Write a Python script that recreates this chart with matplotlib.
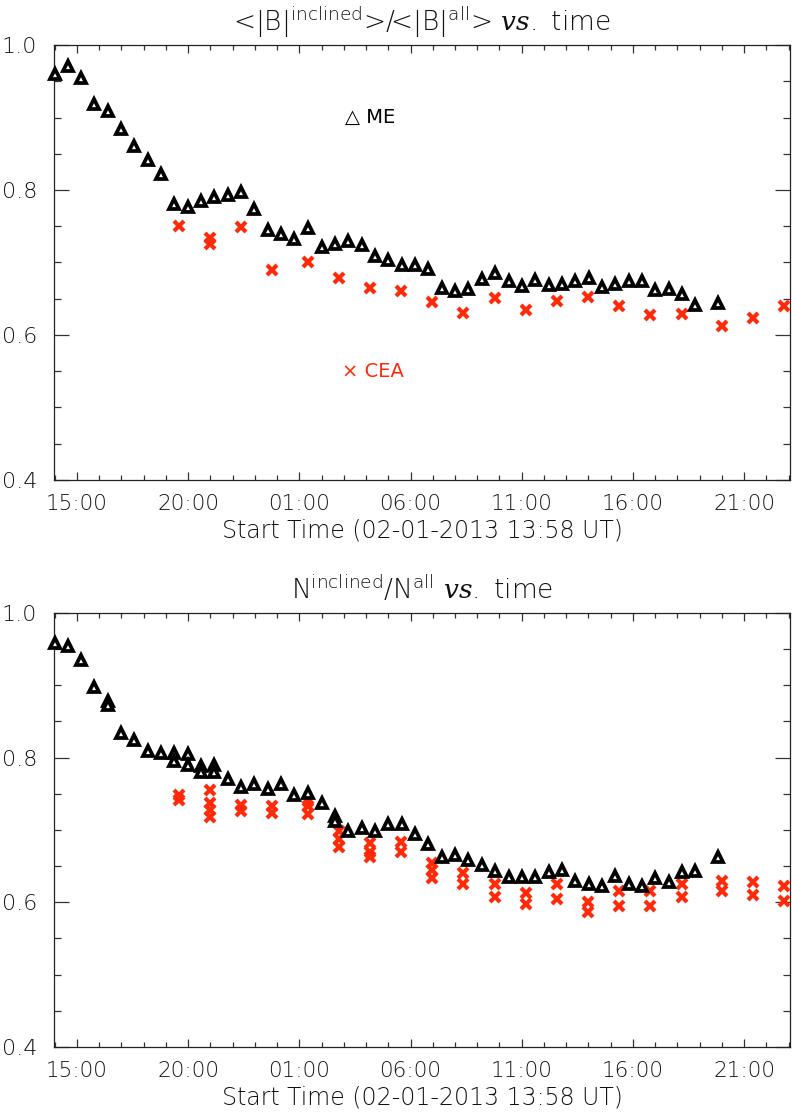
import matplotlib
matplotlib.use('Agg')
import matplotlib.pyplot as plt
from matplotlib.ticker import FixedLocator, MultipleLocator

plt.rcParams['font.family'] = ['DejaVu Sans']
plt.rcParams['font.weight'] = 'light'
plt.rcParams['axes.labelweight'] = 'light'
plt.rcParams['axes.titleweight'] = 'light'
plt.rcParams['mathtext.fontset'] = 'custom'
plt.rcParams['mathtext.rm'] = 'DejaVu Sans:light'
plt.rcParams['mathtext.it'] = 'DejaVu Serif:italic'
plt.rcParams['mathtext.sf'] = 'DejaVu Sans'

# ---------------- data (hours since 02-01-2013 13:58 UT) ----------------
t_me_top = [0.04, 0.62, 1.21, 1.81, 2.41, 3.01, 3.61, 4.21, 4.81, 5.41,
            6.01, 6.61, 7.21, 7.81, 8.41, 9.01, 9.61, 10.21, 10.81, 11.44,
            12.04, 12.64, 13.24, 13.84, 14.44, 15.04, 15.64, 16.24, 16.84, 17.44,
            18.04, 18.64, 19.24, 19.84, 20.44, 21.04, 21.64, 22.24, 22.84, 23.44,
            24.04, 24.64, 25.24, 25.84, 26.44, 27.04, 27.64, 28.24, 28.84, 29.84]
v_me_top = [0.960, 0.971, 0.955, 0.918, 0.909, 0.884, 0.861, 0.841, 0.822, 0.781,
            0.777, 0.785, 0.791, 0.793, 0.797, 0.774, 0.745, 0.739, 0.733, 0.747,
            0.721, 0.726, 0.729, 0.724, 0.709, 0.703, 0.697, 0.697, 0.691, 0.665,
            0.660, 0.663, 0.677, 0.685, 0.674, 0.668, 0.676, 0.669, 0.671, 0.675,
            0.679, 0.666, 0.670, 0.675, 0.674, 0.662, 0.663, 0.657, 0.641, 0.644]

t_cea_top = [5.62, 7.02, 7.02, 8.41, 9.79, 11.41, 12.82, 14.22, 15.61, 17.02,
             18.41, 19.81, 21.22, 22.61, 24.01, 25.42, 26.81, 28.24, 30.03, 31.43,
             32.81]
v_cea_top = [0.750, 0.734, 0.726, 0.749, 0.689, 0.700, 0.679, 0.665, 0.660, 0.645,
             0.631, 0.651, 0.634, 0.647, 0.653, 0.640, 0.628, 0.629, 0.613, 0.623,
             0.640]

t_me_bot = [0.04, 0.62, 1.21, 1.81, 2.41, 2.41, 3.01, 3.61, 4.21, 4.81,
            5.41, 5.41, 6.01, 6.01, 6.61, 6.61, 7.21, 7.21, 7.81, 8.41,
            9.01, 9.61, 10.21, 10.81, 11.44, 12.04, 12.64, 12.64, 13.24, 13.84,
            14.44, 15.04, 15.64, 16.24, 16.84, 17.44, 18.04, 18.64, 19.24, 19.84,
            20.44, 21.04, 21.64, 22.24, 22.84, 23.44, 24.04, 24.64, 25.24, 25.84,
            26.44, 27.04, 27.64, 28.24, 28.84, 29.84]
v_me_bot = [0.958, 0.954, 0.935, 0.898, 0.879, 0.873, 0.834, 0.825, 0.809, 0.807,
            0.806, 0.795, 0.805, 0.790, 0.789, 0.780, 0.790, 0.780, 0.770, 0.760,
            0.764, 0.757, 0.764, 0.748, 0.751, 0.737, 0.719, 0.712, 0.698, 0.703,
            0.699, 0.708, 0.708, 0.694, 0.681, 0.663, 0.666, 0.658, 0.651, 0.643,
            0.635, 0.635, 0.635, 0.642, 0.644, 0.629, 0.625, 0.623, 0.636, 0.626,
            0.623, 0.633, 0.628, 0.642, 0.643, 0.662]

t_cea_bot = [5.62, 5.62, 7.02, 7.02, 7.02, 7.02, 8.41, 8.41, 9.82, 9.82,
             11.44, 11.44, 11.44, 12.82, 12.82, 12.82, 14.22, 14.22, 14.22, 15.61,
             15.61, 17.02, 17.02, 17.02, 18.41, 18.41, 19.81, 19.81, 21.22, 21.22,
             22.61, 22.61, 24.01, 24.01, 25.42, 25.42, 26.81, 26.81, 28.24, 28.24,
             30.03, 30.03, 31.43, 31.43, 32.81, 32.81]
v_cea_bot = [0.749, 0.741, 0.755, 0.738, 0.728, 0.718, 0.735, 0.726, 0.733, 0.724,
             0.740, 0.733, 0.722, 0.698, 0.688, 0.676, 0.682, 0.670, 0.662, 0.684,
             0.669, 0.655, 0.644, 0.634, 0.641, 0.625, 0.625, 0.607, 0.613, 0.597,
             0.626, 0.604, 0.600, 0.586, 0.615, 0.595, 0.615, 0.595, 0.625, 0.607,
             0.630, 0.615, 0.628, 0.610, 0.622, 0.602]

tick_labels = ['15:00', '20:00', '01:00', '06:00', '11:00', '16:00', '21:00']
y_tick_labels = ['0.4', '0.6', '0.8', '1.0']
first_major = 62 / 60.0   # 15:00 relative to 13:58
x_max = 33.1

titles = [r'<|B|$^{\rm inclined}$>/<|B|$^{\rm all}$> $\mathit{vs.}$ time',
          r'N$^{\rm inclined}$/N$^{\rm all}$ $\mathit{vs.}$ time']
xlabel = 'Start Time (02-01-2013 13:58 UT)'

RED = '#ff2a0a'

fig = plt.figure(figsize=(7.92, 11.17), dpi=100)
ax1 = fig.add_axes([0.0682, 0.5703, 0.9293, 0.3894])
ax2 = fig.add_axes([0.0682, 0.0627, 0.9293, 0.3885])

panels = [(ax1, t_me_top, v_me_top, t_cea_top, v_cea_top),
          (ax2, t_me_bot, v_me_bot, t_cea_bot, v_cea_bot)]

for i, (ax, tm, vm, tc, vc) in enumerate(panels):
    ax.plot(tc, vc, linestyle='none', marker='x', ms=7, mew=3.0,
            color=RED, clip_on=False, zorder=3)
    ax.plot(tm, vm, linestyle='none', marker='^', ms=7, mew=2.7,
            mfc='white', mec='black', clip_on=False, zorder=4)
    ax.set_xlim(0, x_max)
    ax.set_ylim(0.4, 1.0)
    majors = [first_major + 5 * k for k in range(len(tick_labels))]
    ax.xaxis.set_major_locator(FixedLocator(majors))
    ax.set_xticklabels(tick_labels)
    minors = [first_major - 1 + h for h in range(0, 34)]
    ax.xaxis.set_minor_locator(FixedLocator(minors))
    ax.yaxis.set_major_locator(FixedLocator([0.4, 0.6, 0.8, 1.0]))
    ax.set_yticklabels(y_tick_labels)
    ax.yaxis.set_minor_locator(MultipleLocator(0.05))
    ax.tick_params(axis='both', which='both', direction='in', top=True,
                   right=True, color='#333333', width=0.9,
                   labelcolor='#111111')
    ax.tick_params(axis='x', which='major', length=6, pad=10, labelsize=15.5)
    ax.tick_params(axis='x', which='minor', length=3.6)
    ax.tick_params(axis='y', which='major', length=10.5, pad=12, labelsize=16)
    ax.tick_params(axis='y', which='minor', length=5)
    for s in ax.spines.values():
        s.set_linewidth(0.9)
        s.set_color('#222222')
    ax.set_title(titles[i], fontsize=19, pad=10, color='#111111')
    ax.set_xlabel(xlabel, fontsize=17, labelpad=3, color='#111111')

ax1.text(0.395, 0.834, '\u25b3 ME', transform=ax1.transAxes, fontsize=14,
         family=['DejaVu Sans'], fontweight='normal',
         color='black', va='center', ha='left')
ax1.text(0.391, 0.250, '\u00d7 CEA', transform=ax1.transAxes, fontsize=14,
         family=['DejaVu Sans'], fontweight='normal',
         color=RED, va='center', ha='left')

fig.savefig('out.png', dpi=100)
